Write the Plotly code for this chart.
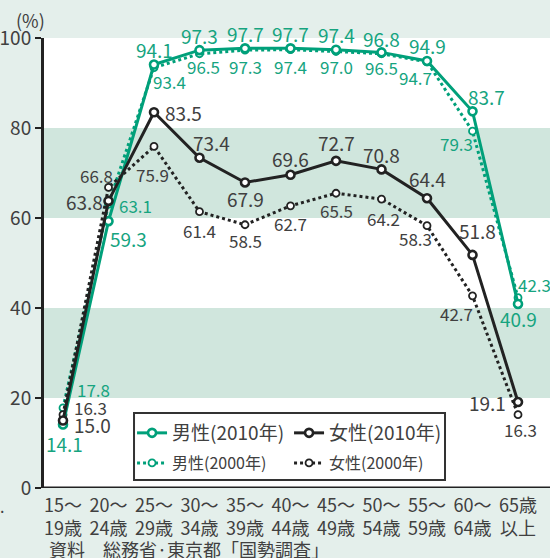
import plotly.graph_objects as go

# ---------------- data ----------------
age_groups = ["15〜<br>19歳", "20〜<br>24歳", "25〜<br>29歳", "30〜<br>34歳", "35〜<br>39歳",
              "40〜<br>44歳", "45〜<br>49歳", "50〜<br>54歳", "55〜<br>59歳", "60〜<br>64歳", "65歳<br>以上"]
male_2010 = [14.1, 59.3, 94.1, 97.3, 97.7, 97.7, 97.4, 96.8, 94.9, 83.7, 40.9]
male_2000 = [17.8, 63.1, 93.4, 96.5, 97.3, 97.4, 97.0, 96.5, 94.7, 79.3, 42.3]
female_2010 = [15.0, 63.8, 83.5, 73.4, 67.9, 69.6, 72.7, 70.8, 64.4, 51.8, 19.1]
female_2000 = [16.3, 66.8, 75.9, 61.4, 58.5, 62.7, 65.5, 64.2, 58.3, 42.7, 16.3]
y_ticks = [0, 20, 40, 60, 80, 100]
series_names = ["男性(2010年)", "女性(2010年)", "男性(2000年)", "女性(2000年)"]
source_text = "資料　総務省·東京都「国勢調査」"

# ---------------- styles ----------------
GREEN = "#00a07a"
GREEN_TXT = "#16a47f"
BLACK = "#222222"
GRAY_TXT = "#404040"
BG = "#e4efeb"
BAND = "#d0e6dd"
FONT = "Noto Sans CJK JP"

xs = list(range(len(age_groups)))

# label offsets (dx, dy in px; dy positive = down, anchor)
off_m10 = [(1, 19, "center"), (-1, 17, "left"), (0, -15, "center"), (0, -15, "center"), (0, -15, "center"),
           (0, -15, "center"), (0, -15, "center"), (0, -14, "center"), (0, -15, "center"), (14, -15, "center"),
           (0, 15, "center")]
off_m00 = [(12, -18, "left"), (8, 1, "left"), (15, 14, "center"), (4, 13, "center"), (0, 16, "center"),
           (0, 17, "center"), (0, 15, "center"), (0, 14, "center"), (-12, 16, "center"), (-16, 12, "center"),
           (16, -13, "center")]
off_f10 = [(9, 4, "left"), (-4, 1, "right"), (9, 0, "left"), (12, -15, "center"), (0, 16, "center"),
           (0, -16, "center"), (0, -18, "center"), (0, -15, "center"), (0, -20, "center"), (5, -24, "center"),
           (-10, 0, "right")]
off_f00 = [(9, -7, "left"), (-12, -12, "center"), (-2, 28, "center"), (0, 19, "center"), (0, 16, "center"),
           (0, 18, "center"), (0, 17, "center"), (2, 19, "center"), (-12, 13, "center"), (-16, 18, "center"),
           (2, 15, "center")]

fig = go.Figure()

def add_series(vals, name, color, dash, width, msize, mline, rank, legend):
    fig.add_trace(go.Scatter(
        x=xs, y=vals, mode="lines+markers", name=name, legendrank=rank, legend=legend,
        line=dict(color=color, width=width, dash=dash),
        marker=dict(symbol="circle", size=msize, color="white",
                    line=dict(color=color, width=mline)),
        cliponaxis=False,
    ))

add_series(male_2000, series_names[2], GREEN, "dot", 3, 7, 1.8, 3, "legend2")
add_series(female_2000, series_names[3], BLACK, "dot", 3, 7, 1.8, 4, "legend2")
add_series(male_2010, series_names[0], GREEN, "solid", 3, 8, 2.6, 1, "legend")
add_series(female_2010, series_names[1], BLACK, "solid", 3, 8, 2.6, 2, "legend")

annos = []
def add_labels(vals, offs, color, size):
    for i, (v, (dx, dy, anc)) in enumerate(zip(vals, offs)):
        annos.append(dict(x=xs[i], y=v, xref="x", yref="y", text=f"{v:.1f}", showarrow=False,
                          xanchor=anc, yanchor="middle", xshift=dx, yshift=-dy,
                          font=dict(family=FONT, size=size, color=color)))

add_labels(male_2010, off_m10, GREEN_TXT, 19)
add_labels(male_2000, off_m00, GREEN_TXT, 17)
add_labels(female_2010, off_f10, GRAY_TXT, 19)
add_labels(female_2000, off_f00, GRAY_TXT, 17)

annos.append(dict(x=-0.026, y=1.04, xref="paper", yref="paper", text="(%)", showarrow=False,
                  xanchor="center", yanchor="middle", font=dict(family=FONT, size=18, color=GRAY_TXT)))
annos.append(dict(x=0.006, y=-0.1345, xref="paper", yref="paper", text=source_text, showarrow=False,
                  xanchor="left", yanchor="middle", font=dict(family=FONT, size=18, color=GRAY_TXT)))
annos.append(dict(x=-0.083, y=-0.04, xref="paper", yref="paper", text=".", showarrow=False,
                  xanchor="center", yanchor="middle", font=dict(family=FONT, size=16, color=GRAY_TXT)))

shapes = [
    dict(type="rect", xref="paper", yref="y", x0=0, x1=1, y0=20, y1=40, fillcolor=BAND, line=dict(width=0), layer="below"),
    dict(type="rect", xref="paper", yref="y", x0=0, x1=1, y0=60, y1=80, fillcolor=BAND, line=dict(width=0), layer="below"),
    # legend frame
    dict(type="rect", xref="paper", yref="paper", x0=0.1779, x1=0.7925, y0=0.0178, y1=0.1667,
         fillcolor="white", line=dict(color="#333333", width=2), layer="below"),
]

leg_common = dict(orientation="h", xanchor="left", yanchor="middle", bgcolor="rgba(0,0,0,0)",
                  borderwidth=0, itemwidth=30, entrywidth=112, entrywidthmode="pixels")

fig.update_layout(
    width=550, height=558,
    margin=dict(l=44, r=0, t=38, b=70),
    paper_bgcolor=BG, plot_bgcolor="white",
    font=dict(family=FONT, color=GRAY_TXT),
    showlegend=True,
    legend=dict(x=0.174, y=0.1222, font=dict(family=FONT, size=19, color=GRAY_TXT), **leg_common),
    legend2=dict(x=0.174, y=0.0556, font=dict(family=FONT, size=16, color=GRAY_TXT), **leg_common),
    annotations=annos, shapes=shapes,
    xaxis=dict(range=[-0.4176, 10.703], tickvals=xs, ticktext=age_groups, showgrid=False,
               zeroline=False, showline=False, ticks="", tickangle=0, ticklabelstandoff=5,
               tickfont=dict(family=FONT, size=18, color=GRAY_TXT)),
    yaxis=dict(range=[0, 100], tickvals=y_ticks, showgrid=False, zeroline=False,
               showline=True, linecolor=BLACK, linewidth=3,
               ticks="outside", ticklen=6, tickwidth=2, tickcolor=BLACK,
               tickfont=dict(family=FONT, size=19, color=GRAY_TXT)),
)
fig.add_shape(type="line", xref="paper", yref="y", x0=-0.003, x1=1, y0=0, y1=0,
              line=dict(color=BLACK, width=3), layer="above")

fig.write_html("out.html")
